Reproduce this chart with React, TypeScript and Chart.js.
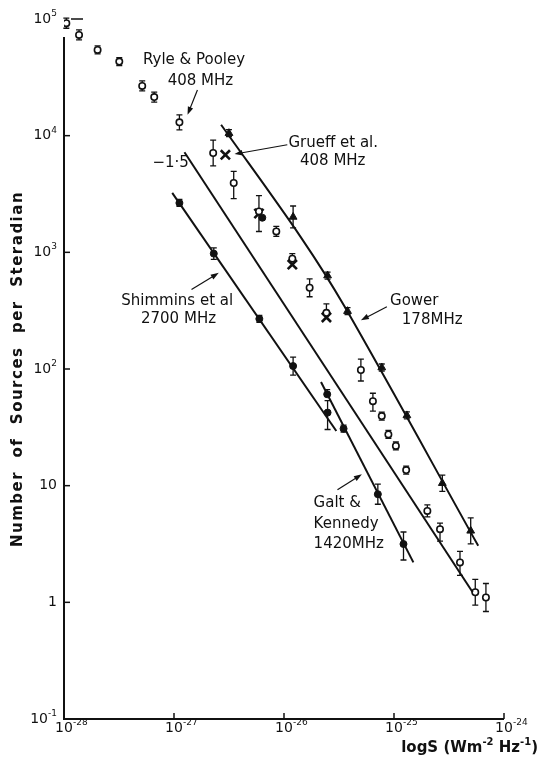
import React, { useEffect, useRef } from 'react';
import { Chart, registerables } from 'chart.js';

Chart.register(...registerables);

const FONT = '"DejaVu Sans", sans-serif';
const INK = '#111';

// ---- Ryle & Pooley 408 MHz (open circles) ----
const RP_FLUX = [1.05e-28, 1.37e-28, 2.02e-28, 3.18e-28, 5.14e-28, 6.61e-28, 1.12e-27, 2.27e-27, 3.49e-27, 5.92e-27, 8.51e-27, 1.19e-26, 1.71e-26, 2.43e-26, 5.0e-26, 6.43e-26, 7.74e-26, 8.89e-26, 1.04e-25, 1.29e-25, 2.01e-25, 2.62e-25, 3.98e-25, 5.48e-25, 6.85e-25];
const RP_COUNT = [92000, 73000, 54300, 43200, 26700, 21400, 13000, 7100, 3930, 2240, 1510, 883, 497, 303, 98, 53, 39.5, 27.5, 21.9, 13.6, 6.08, 4.24, 2.2, 1.22, 1.1];
const RP_ERR_UP = [0.043, 0.043, 0.034, 0.034, 0.043, 0.043, 0.065, 0.111, 0.099, 0, 0.043, 0.043, 0.077, 0.077, 0.094, 0.068, 0.034, 0.034, 0.034, 0.034, 0.051, 0.051, 0.094, 0.111, 0.12];
const RP_ERR_DN = [0.043, 0.043, 0.034, 0.034, 0.043, 0.043, 0.065, 0.111, 0.134, 0, 0.043, 0, 0.077, 0, 0.094, 0.086, 0.034, 0.034, 0.034, 0.034, 0.051, 0.103, 0.111, 0.111, 0.12];

// ---- Grueff et al. 408 MHz (crosses) ----
const GR_FLUX = [2.93e-27, 5.92e-27, 1.19e-26, 2.43e-26];
const GR_COUNT = [6850, 2150, 785, 277];
const GR_ERR = [0, 0.154, 0, 0];
const GR_FILLED_FLUX = [6.35e-27];
const GR_FILLED_COUNT = [1980];

// ---- Gower 178 MHz ----
const GOWER_FLUX = [3.16e-27, 1.21e-26, 2.49e-26, 3.78e-26, 7.74e-26, 1.31e-25, 2.75e-25, 4.98e-25];
const GOWER_COUNT = [10500, 2010, 632, 313, 103, 40, 10.5, 4.1];
const GOWER_ERR = [0.03, 0.094, 0.03, 0.03, 0.03, 0.03, 0.07, 0.111];
const GOWER_FIT_FLUX = [2.68e-27, 1.41e-26, 3.6e-26, 5.83e-25];
const GOWER_FIT_COUNT = [12400, 1365, 336, 3.05];

// ---- Shimmins et al 2700 MHz ----
const SHIM_FLUX = [1.12e-27, 2.3e-27, 5.97e-27, 1.21e-26, 2.49e-26];
const SHIM_COUNT = [2650, 975, 269, 106, 42.3];
const SHIM_ERR_UP = [0.03, 0.05, 0.03, 0.077, 0.103];
const SHIM_ERR_DN = [0.03, 0.05, 0.03, 0.077, 0.145];
const SHIM_FIT_FLUX = [9.64e-28, 2.99e-26];
const SHIM_FIT_COUNT = [3230, 29.4];

// ---- Galt & Kennedy 1420 MHz ----
const GALT_FLUX = [2.47e-26, 3.48e-26, 7.13e-26, 1.22e-25];
const GALT_COUNT = [60.7, 30.8, 8.45, 3.16];
const GALT_ERR_UP = [0.04, 0.03, 0.086, 0.103];
const GALT_ERR_DN = [0, 0.03, 0.086, 0.137];
const GALT_FIT_FLUX = [2.17e-26, 1.5e-25];
const GALT_FIT_COUNT = [77.3, 2.2];

// ---- reference slope -1.5 ----
const SLOPE_FLUX = [1.245e-27, 5.19e-25];
const SLOPE_COUNT = [7210, 1.22];

// ---- ticks ----
const X_TICKS = [1e-28, 1e-27, 1e-26, 1e-25, 1e-24];
const X_TICK_BASE = ['10', '10', '10', '10', '10'];
const X_TICK_EXP = ['-28', '-27', '-26', '-25', '-24'];
const Y_TICKS = [0.1, 1, 10, 100, 1000, 10000, 100000];
const Y_TICK_BASE = ['10', '1', '10', '10', '10', '10', '10'];
const Y_TICK_EXP = ['-1', '', '', '2', '3', '4', '5'];

const Y_TITLE = 'Number of Sources per Steradian';
const X_TITLE_RUNS: [string, boolean][] = [['logS (Wm', false], ['-2', true], [' Hz', false], ['-1', true], [')', false]];

// annotation texts: positions in log10 data units
const LABELS = [
  { text: 'Ryle & Pooley', lx: -26.818, ly: 4.649, align: 'center' },
  { text: '408 MHz', lx: -26.76, ly: 4.469, align: 'center' },
  { text: '\u22121\u00b75', lx: -27.03, ly: 3.768, align: 'center' },
  { text: 'Grueff et al.', lx: -25.96, ly: 3.939, align: 'left' },
  { text: '408 MHz', lx: -25.557, ly: 3.785, align: 'center' },
  { text: 'Gower', lx: -25.036, ly: 2.579, align: 'left' },
  { text: '178MHz', lx: -24.929, ly: 2.416, align: 'left' },
  { text: 'Shimmins et al', lx: -26.971, ly: 2.581, align: 'center' },
  { text: '2700 MHz', lx: -26.959, ly: 2.424, align: 'center' },
  { text: 'Galt &', lx: -25.731, ly: 0.85, align: 'left' },
  { text: 'Kennedy', lx: -25.731, ly: 0.67, align: 'left' },
  { text: '1420MHz', lx: -25.731, ly: 0.499, align: 'left' },
];
const ARROWS = [
  { x1: -26.787, y1: 4.392, x2: -26.877, y2: 4.179 },
  { x1: -25.97, y1: 3.922, x2: -26.45, y2: 3.842 },
  { x1: -25.065, y1: 2.533, x2: -25.301, y2: 2.418 },
  { x1: -26.841, y1: 2.681, x2: -26.593, y2: 2.824 },
  { x1: -25.514, y1: 0.964, x2: -25.292, y2: 1.098 },
];

const pts = (xs: number[], ys: number[]) => xs.map((x, i) => ({ x, y: ys[i] }));

function drawRuns(ctx: CanvasRenderingContext2D, runs: [string, boolean][], x: number, y: number, align: 'left' | 'right' | 'center', baseSize: number, supSize: number, weight = 'normal') {
  const baseFont = `${weight} ${baseSize}px ${FONT}`;
  const supFont = `${weight} ${supSize}px ${FONT}`;
  let total = 0;
  const widths = runs.map(([t, sup]) => {
    ctx.font = sup ? supFont : baseFont;
    const w = ctx.measureText(t).width;
    total += w;
    return w;
  });
  let cx = align === 'left' ? x : align === 'right' ? x - total : x - total / 2;
  ctx.textAlign = 'left';
  ctx.textBaseline = 'middle';
  runs.forEach(([t, sup], i) => {
    ctx.font = sup ? supFont : baseFont;
    ctx.fillText(t, cx, sup ? y - baseSize * 0.38 : y);
    cx += widths[i];
  });
}

const decorPlugin = {
  id: 'decor',
  beforeDatasetsDraw(chart: any) {
    const ctx: CanvasRenderingContext2D = chart.ctx;
    const xs = chart.scales.x;
    const ys = chart.scales.y;
    const { left, right, top, bottom } = chart.chartArea;
    ctx.save();
    ctx.strokeStyle = INK;
    ctx.fillStyle = INK;
    ctx.lineCap = 'butt';
    // axes
    ctx.lineWidth = 2;
    ctx.beginPath();
    ctx.moveTo(left, top + 18);
    ctx.lineTo(left, bottom);
    ctx.lineTo(right, bottom);
    ctx.stroke();
    // x ticks + labels
    ctx.lineWidth = 1.5;
    X_TICKS.forEach((v, i) => {
      const px = xs.getPixelForValue(v);
      if (i > 0) {
        ctx.beginPath();
        ctx.moveTo(px, bottom);
        ctx.lineTo(px, bottom - 6);
        ctx.stroke();
      }
      ctx.font = `14px ${FONT}`;
      const bw = ctx.measureText(X_TICK_BASE[i]).width;
      drawRuns(ctx, [[X_TICK_BASE[i], false], [X_TICK_EXP[i], true]], px - bw / 2, bottom + 9, 'left', 14, 9);
    });
    // y ticks + labels
    Y_TICKS.forEach((v, i) => {
      const py = ys.getPixelForValue(v);
      if (i > 0 && i < Y_TICKS.length - 1) {
        ctx.beginPath();
        ctx.moveTo(left, py);
        ctx.lineTo(left + 6, py);
        ctx.stroke();
      } else if (i === Y_TICKS.length - 1) {
        ctx.beginPath();
        ctx.moveTo(left + 7, py);
        ctx.lineTo(left + 19, py);
        ctx.stroke();
      }
      const runs: [string, boolean][] = [[Y_TICK_BASE[i], false]];
      if (Y_TICK_EXP[i]) runs.push([Y_TICK_EXP[i], true]);
      drawRuns(ctx, runs, left - 7, py, 'right', 14, 9);
    });
    // error bars
    chart.data.datasets.forEach((ds: any, di: number) => {
      if (!ds.errUp) return;
      const meta = chart.getDatasetMeta(di);
      if (meta.hidden) return;
      ctx.lineWidth = 1.3;
      ds.data.forEach((d: any, i: number) => {
        const up = ds.errUp[i] || 0;
        const dn = ds.errDn[i] || 0;
        if (!up && !dn) return;
        const px = xs.getPixelForValue(d.x);
        const py = ys.getPixelForValue(d.y);
        const pu = ys.getPixelForValue(d.y * Math.pow(10, up));
        const pd = ys.getPixelForValue(d.y / Math.pow(10, dn));
        ctx.beginPath();
        ctx.moveTo(px, up ? pu : py);
        ctx.lineTo(px, dn ? pd : py);
        if (up) { ctx.moveTo(px - 3, pu); ctx.lineTo(px + 3, pu); }
        if (dn) { ctx.moveTo(px - 3, pd); ctx.lineTo(px + 3, pd); }
        ctx.stroke();
      });
    });
    ctx.restore();
  },
  afterDatasetsDraw(chart: any) {
    const ctx: CanvasRenderingContext2D = chart.ctx;
    const xs = chart.scales.x;
    const ys = chart.scales.y;
    const P = (lx: number, ly: number) => [xs.getPixelForValue(Math.pow(10, lx)), ys.getPixelForValue(Math.pow(10, ly))];
    ctx.save();
    ctx.fillStyle = INK;
    ctx.strokeStyle = INK;
    ctx.textBaseline = 'middle';
    LABELS.forEach((l) => {
      const [x, y] = P(l.lx, l.ly);
      ctx.font = `15px ${FONT}`;
      ctx.textAlign = l.align as CanvasTextAlign;
      ctx.fillText(l.text, x, y);
    });
    ARROWS.forEach((a) => {
      const [x1, y1] = P(a.x1, a.y1);
      const [x2, y2] = P(a.x2, a.y2);
      const ang = Math.atan2(y2 - y1, x2 - x1);
      ctx.lineWidth = 1.2;
      ctx.beginPath();
      ctx.moveTo(x1, y1);
      ctx.lineTo(x2 - 5 * Math.cos(ang), y2 - 5 * Math.sin(ang));
      ctx.stroke();
      ctx.beginPath();
      ctx.moveTo(x2, y2);
      ctx.lineTo(x2 - 8 * Math.cos(ang) + 2.8 * Math.sin(ang), y2 - 8 * Math.sin(ang) - 2.8 * Math.cos(ang));
      ctx.lineTo(x2 - 8 * Math.cos(ang) - 2.8 * Math.sin(ang), y2 - 8 * Math.sin(ang) + 2.8 * Math.cos(ang));
      ctx.closePath();
      ctx.fill();
    });
    // axis titles
    ctx.save();
    ctx.translate(18, (chart.chartArea.top + chart.chartArea.bottom) / 2);
    ctx.rotate(-Math.PI / 2);
    ctx.font = `bold 15px ${FONT}`;
    (ctx as any).letterSpacing = '1.5px';
    ctx.textAlign = 'center';
    ctx.textBaseline = 'middle';
    ctx.fillText(Y_TITLE.replace(/ /g, '  '), 0, 0);
    ctx.restore();
    drawRuns(ctx, X_TITLE_RUNS, 538, 748, 'right', 15, 10, 'bold');
    ctx.restore();
  },
};

export default function App() {
  const ref = useRef<HTMLCanvasElement | null>(null);
  useEffect(() => {
    if (!ref.current) return;
    const lineDs = (xs: number[], ys: number[], tension = 0) => ({
      data: pts(xs, ys),
      showLine: true,
      pointRadius: 0,
      borderColor: INK,
      borderWidth: 2,
      fill: false,
      tension,
    });
    const chart = new Chart(ref.current, {
      type: 'scatter',
      data: {
        datasets: [
          lineDs(GOWER_FIT_FLUX, GOWER_FIT_COUNT, 0.35),
          lineDs(SLOPE_FLUX, SLOPE_COUNT),
          lineDs(SHIM_FIT_FLUX, SHIM_FIT_COUNT),
          lineDs(GALT_FIT_FLUX, GALT_FIT_COUNT),
          {
            data: pts(GOWER_FLUX, GOWER_COUNT),
            errUp: GOWER_ERR, errDn: GOWER_ERR,
            pointStyle: 'triangle', pointRadius: 4.5, backgroundColor: INK, borderColor: INK, borderWidth: 1,
          } as any,
          {
            data: pts(SHIM_FLUX, SHIM_COUNT),
            errUp: SHIM_ERR_UP, errDn: SHIM_ERR_DN,
            pointStyle: 'circle', pointRadius: 3.5, backgroundColor: INK, borderColor: INK, borderWidth: 1,
          } as any,
          {
            data: pts(GALT_FLUX, GALT_COUNT),
            errUp: GALT_ERR_UP, errDn: GALT_ERR_DN,
            pointStyle: 'circle', pointRadius: 3.5, backgroundColor: INK, borderColor: INK, borderWidth: 1,
          } as any,
          {
            data: pts(GR_FILLED_FLUX, GR_FILLED_COUNT),
            pointStyle: 'circle', pointRadius: 3.5, backgroundColor: INK, borderColor: INK, borderWidth: 1,
          } as any,
          {
            data: pts(RP_FLUX, RP_COUNT),
            errUp: RP_ERR_UP, errDn: RP_ERR_DN,
            pointStyle: 'circle', pointRadius: 3.2, backgroundColor: '#fff', borderColor: INK, borderWidth: 1.6,
          } as any,
          {
            data: pts(GR_FLUX, GR_COUNT),
            errUp: GR_ERR, errDn: GR_ERR,
            pointStyle: 'crossRot', pointRadius: 6.5, backgroundColor: INK, borderColor: INK, borderWidth: 2.6,
          } as any,
        ],
      },
      options: {
        responsive: false,
        animation: false,
        devicePixelRatio: 1,
        layout: { padding: { top: 19, right: 36, left: 0, bottom: 0 } },
        plugins: { legend: { display: false }, tooltip: { enabled: false } },
        scales: {
          x: {
            type: 'logarithmic',
            min: 1e-28,
            max: 1e-24,
            grid: { display: false },
            border: { display: false },
            ticks: { display: false },
            afterBuildTicks: (s: any) => { s.ticks = X_TICKS.map((v) => ({ value: v })); },
            afterFit: (s: any) => { s.height = 39; },
          },
          y: {
            type: 'logarithmic',
            min: 0.1,
            max: 100000,
            grid: { display: false },
            border: { display: false },
            ticks: { display: false },
            afterBuildTicks: (s: any) => { s.ticks = Y_TICKS.map((v) => ({ value: v })); },
            afterFit: (s: any) => { s.width = 64; },
          },
        },
      } as any,
      plugins: [decorPlugin],
    });
    return () => chart.destroy();
  }, []);
  return (
    <div style={{ position: 'absolute', left: 0, top: 0, width: 540, height: 758, background: '#fff' }}>
      <canvas ref={ref} width={540} height={758} style={{ width: 540, height: 758, display: 'block' }} />
    </div>
  );
}
